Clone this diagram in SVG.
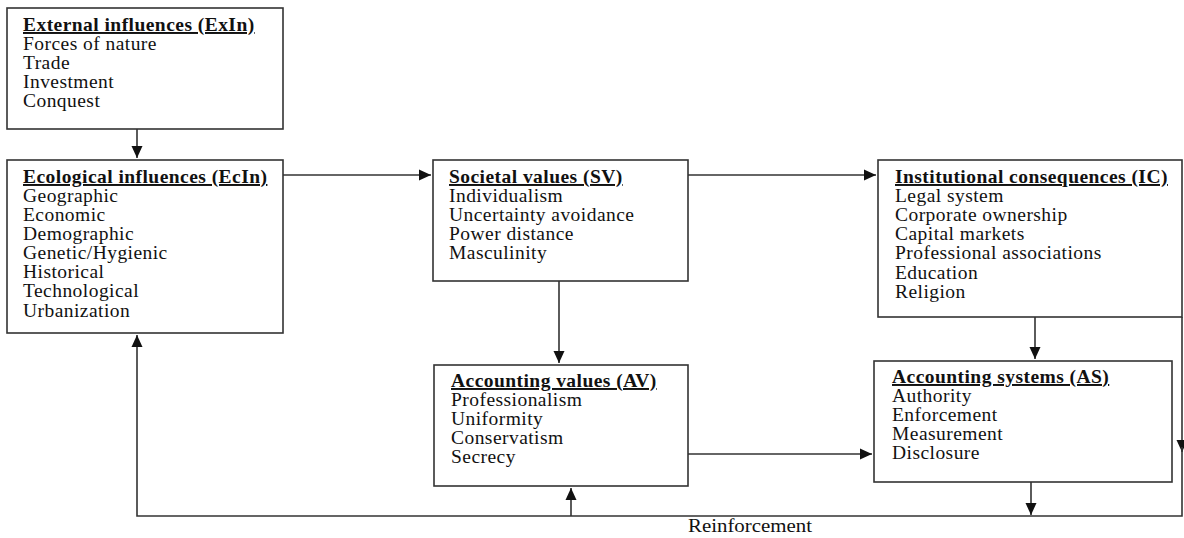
<svg xmlns="http://www.w3.org/2000/svg" width="1184" height="538" viewBox="0 0 1184 538">
<defs>
<marker id="ah" markerUnits="userSpaceOnUse" markerWidth="13" markerHeight="13" refX="12" refY="6.5" orient="auto">
<path d="M0,1 L12,6.5 L0,12 Z" fill="#111"/>
</marker>
<style>
.box{fill:#fff;stroke:#333;stroke-width:1.6}
.con{fill:none;stroke:#333;stroke-width:1.6}
text{font-family:"Liberation Serif","Times New Roman",serif;font-size:19.5px;letter-spacing:0.45px;fill:#111}
.t{font-weight:bold;text-decoration:underline}
.lbl{font-size:19px;letter-spacing:0}
</style>
</defs>
<rect width="1184" height="538" fill="#fff"/>
<g id="connectors">
<path class="con" d="M137,129 V158" marker-end="url(#ah)"/>
<path class="con" d="M283,175 V175 H431" marker-end="url(#ah)"/>
<path class="con" d="M688,175 H876" marker-end="url(#ah)"/>
<path class="con" d="M559,281 V363" marker-end="url(#ah)"/>
<path class="con" d="M1035,317 V359" marker-end="url(#ah)"/>
<path class="con" d="M688,454 H872" marker-end="url(#ah)"/>
<path class="con" d="M1031,482 V515" marker-end="url(#ah)"/>
<path class="con" d="M1182,317 V452" marker-end="url(#ah)"/>
<path class="con" d="M1182,447 V516 H137 V335" marker-end="url(#ah)"/>
<path class="con" d="M571,516 V488" marker-end="url(#ah)"/>
<text class="lbl" x="688" y="532" textLength="124" lengthAdjust="spacingAndGlyphs">Reinforcement</text>
</g>
<g id="exin">
<rect class="box" x="7" y="8" width="276" height="121"/>
<text class="t" x="23" y="31">External influences (ExIn)</text>
<text x="23" y="50">Forces of nature</text>
<text x="23" y="69">Trade</text>
<text x="23" y="88">Investment</text>
<text x="23" y="107">Conquest</text>
</g>
<g id="ecin">
<rect class="box" x="7" y="160" width="276" height="173"/>
<text class="t" x="23" y="183">Ecological influences (EcIn)</text>
<text x="23" y="202">Geographic</text>
<text x="23" y="221">Economic</text>
<text x="23" y="240">Demographic</text>
<text x="23" y="259">Genetic/Hygienic</text>
<text x="23" y="278">Historical</text>
<text x="23" y="297">Technological</text>
<text x="23" y="317">Urbanization</text>
</g>
<g id="sv">
<rect class="box" x="433" y="160" width="255" height="121"/>
<text class="t" x="449" y="183">Societal values (SV)</text>
<text x="449" y="202">Individualism</text>
<text x="449" y="221">Uncertainty avoidance</text>
<text x="449" y="240">Power distance</text>
<text x="449" y="259">Masculinity</text>
</g>
<g id="ic">
<rect class="box" x="878" y="160" width="304" height="157"/>
<text class="t" x="895" y="183">Institutional consequences (IC)</text>
<text x="895" y="202">Legal system</text>
<text x="895" y="221">Corporate ownership</text>
<text x="895" y="240">Capital markets</text>
<text x="895" y="259">Professional associations</text>
<text x="895" y="279">Education</text>
<text x="895" y="298">Religion</text>
</g>
<g id="av">
<rect class="box" x="434" y="365" width="254" height="121"/>
<text class="t" x="451" y="387">Accounting values (AV)</text>
<text x="451" y="406">Professionalism</text>
<text x="451" y="425">Uniformity</text>
<text x="451" y="444">Conservatism</text>
<text x="451" y="463">Secrecy</text>
</g>
<g id="as">
<rect class="box" x="874" y="361" width="298" height="121"/>
<text class="t" x="892" y="383">Accounting systems (AS)</text>
<text x="892" y="402">Authority</text>
<text x="892" y="421">Enforcement</text>
<text x="892" y="440">Measurement</text>
<text x="892" y="459">Disclosure</text>
</g>
</svg>
